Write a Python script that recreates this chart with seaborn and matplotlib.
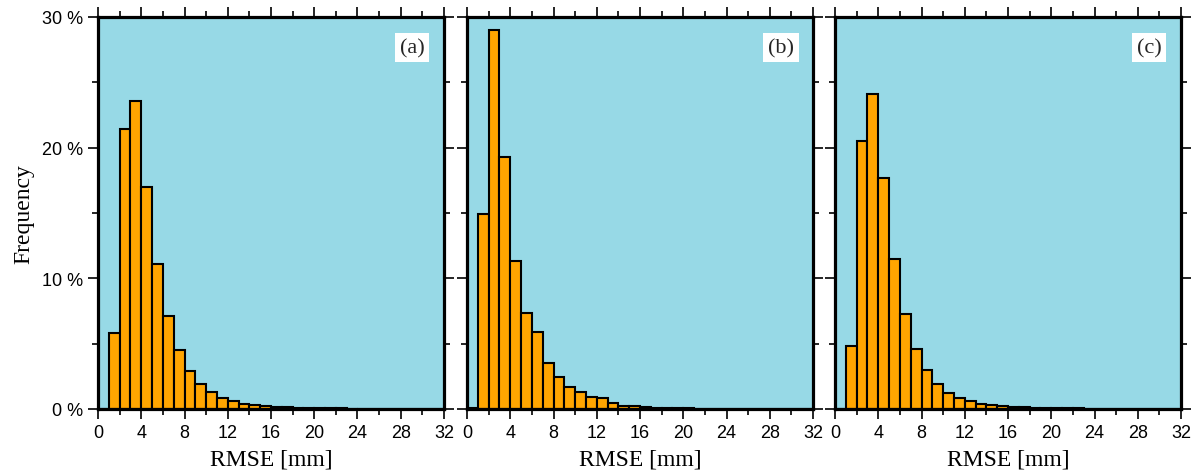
import numpy as np
import pandas as pd
import seaborn as sns
import matplotlib.pyplot as plt
from matplotlib.ticker import MultipleLocator, FuncFormatter

# bin heights in percent, bins of 1 mm from 0 to 32
freq_a = [0.0, 5.8, 21.4, 23.6, 17.0, 11.1, 7.1, 4.5, 2.9, 1.9, 1.3, 0.85, 0.6, 0.42, 0.3, 0.23,
          0.17, 0.13, 0.1, 0.08, 0.06, 0.05, 0.04, 0.03, 0.02, 0.015, 0.01, 0.0, 0.0, 0.0, 0.0, 0.0]
freq_b = [0.05, 14.9, 29.0, 19.3, 11.35, 7.35, 5.9, 3.5, 2.45, 1.65, 1.28, 0.95, 0.82, 0.45, 0.25, 0.2,
          0.12, 0.1, 0.07, 0.05, 0.04, 0.03, 0.02, 0.015, 0.01, 0.0, 0.0, 0.0, 0.0, 0.0, 0.0, 0.0]
freq_c = [0.0, 4.8, 20.5, 24.1, 17.7, 11.5, 7.3, 4.6, 3.0, 1.95, 1.25, 0.82, 0.6, 0.42, 0.3, 0.23,
          0.18, 0.13, 0.1, 0.08, 0.06, 0.05, 0.04, 0.03, 0.02, 0.015, 0.01, 0.0, 0.0, 0.0, 0.0, 0.0]
panels = ['(a)', '(b)', '(c)']
bin_lo = np.arange(0, 32)

sns.set_style('ticks')
plt.rcParams['font.family'] = ['Liberation Sans', 'DejaVu Sans']

fig = plt.figure(figsize=(11.96, 4.77), dpi=100)
lefts = [98 / 1196, 467 / 1196, 835 / 1196]

for i, (freq, lab) in enumerate(zip([freq_a, freq_b, freq_c], panels)):
    ax = fig.add_axes([lefts[i], 67 / 477, 346 / 1196, 392 / 477])
    df = pd.DataFrame({'rmse': bin_lo + 0.5, 'pct': freq})
    sns.histplot(data=df, x='rmse', weights='pct', binwidth=1, binrange=(0, 32), ax=ax,
                 color='#FFA500', alpha=1, edgecolor='black', linewidth=1.5)
    ax.set_facecolor('#97D9E6')
    ax.set_xlim(0, 32)
    ax.set_ylim(0, 30)
    ax.xaxis.set_major_locator(MultipleLocator(4))
    ax.xaxis.set_minor_locator(MultipleLocator(2))
    ax.yaxis.set_major_locator(MultipleLocator(10))
    ax.yaxis.set_minor_locator(MultipleLocator(5))
    ax.tick_params(which='both', direction='out', top=True, right=True, width=1.2,
                   color='black', labelcolor='black', labelsize=13)
    ax.tick_params(which='major', length=7)
    ax.tick_params(which='minor', length=4)
    for s in ax.spines.values():
        s.set_linewidth(2.3)
        s.set_color('black')
    ax.set_xlabel('RMSE [mm]', family='Liberation Serif', fontsize=17, labelpad=6, color='black')
    if i == 0:
        ax.yaxis.set_major_formatter(FuncFormatter(lambda v, p: f'{v:.0f} %'))
        ax.set_ylabel('Frequency', family='Liberation Serif', fontsize=17, labelpad=6, color='black')
    else:
        ax.set_yticklabels([])
        ax.set_ylabel('')
    ax.text(0.908, 0.921, lab, transform=ax.transAxes, ha='center', va='center',
            family='Liberation Serif', fontsize=16,
            bbox=dict(facecolor='white', edgecolor='none', pad=3.5))

plt.savefig('out.png', dpi=100)
